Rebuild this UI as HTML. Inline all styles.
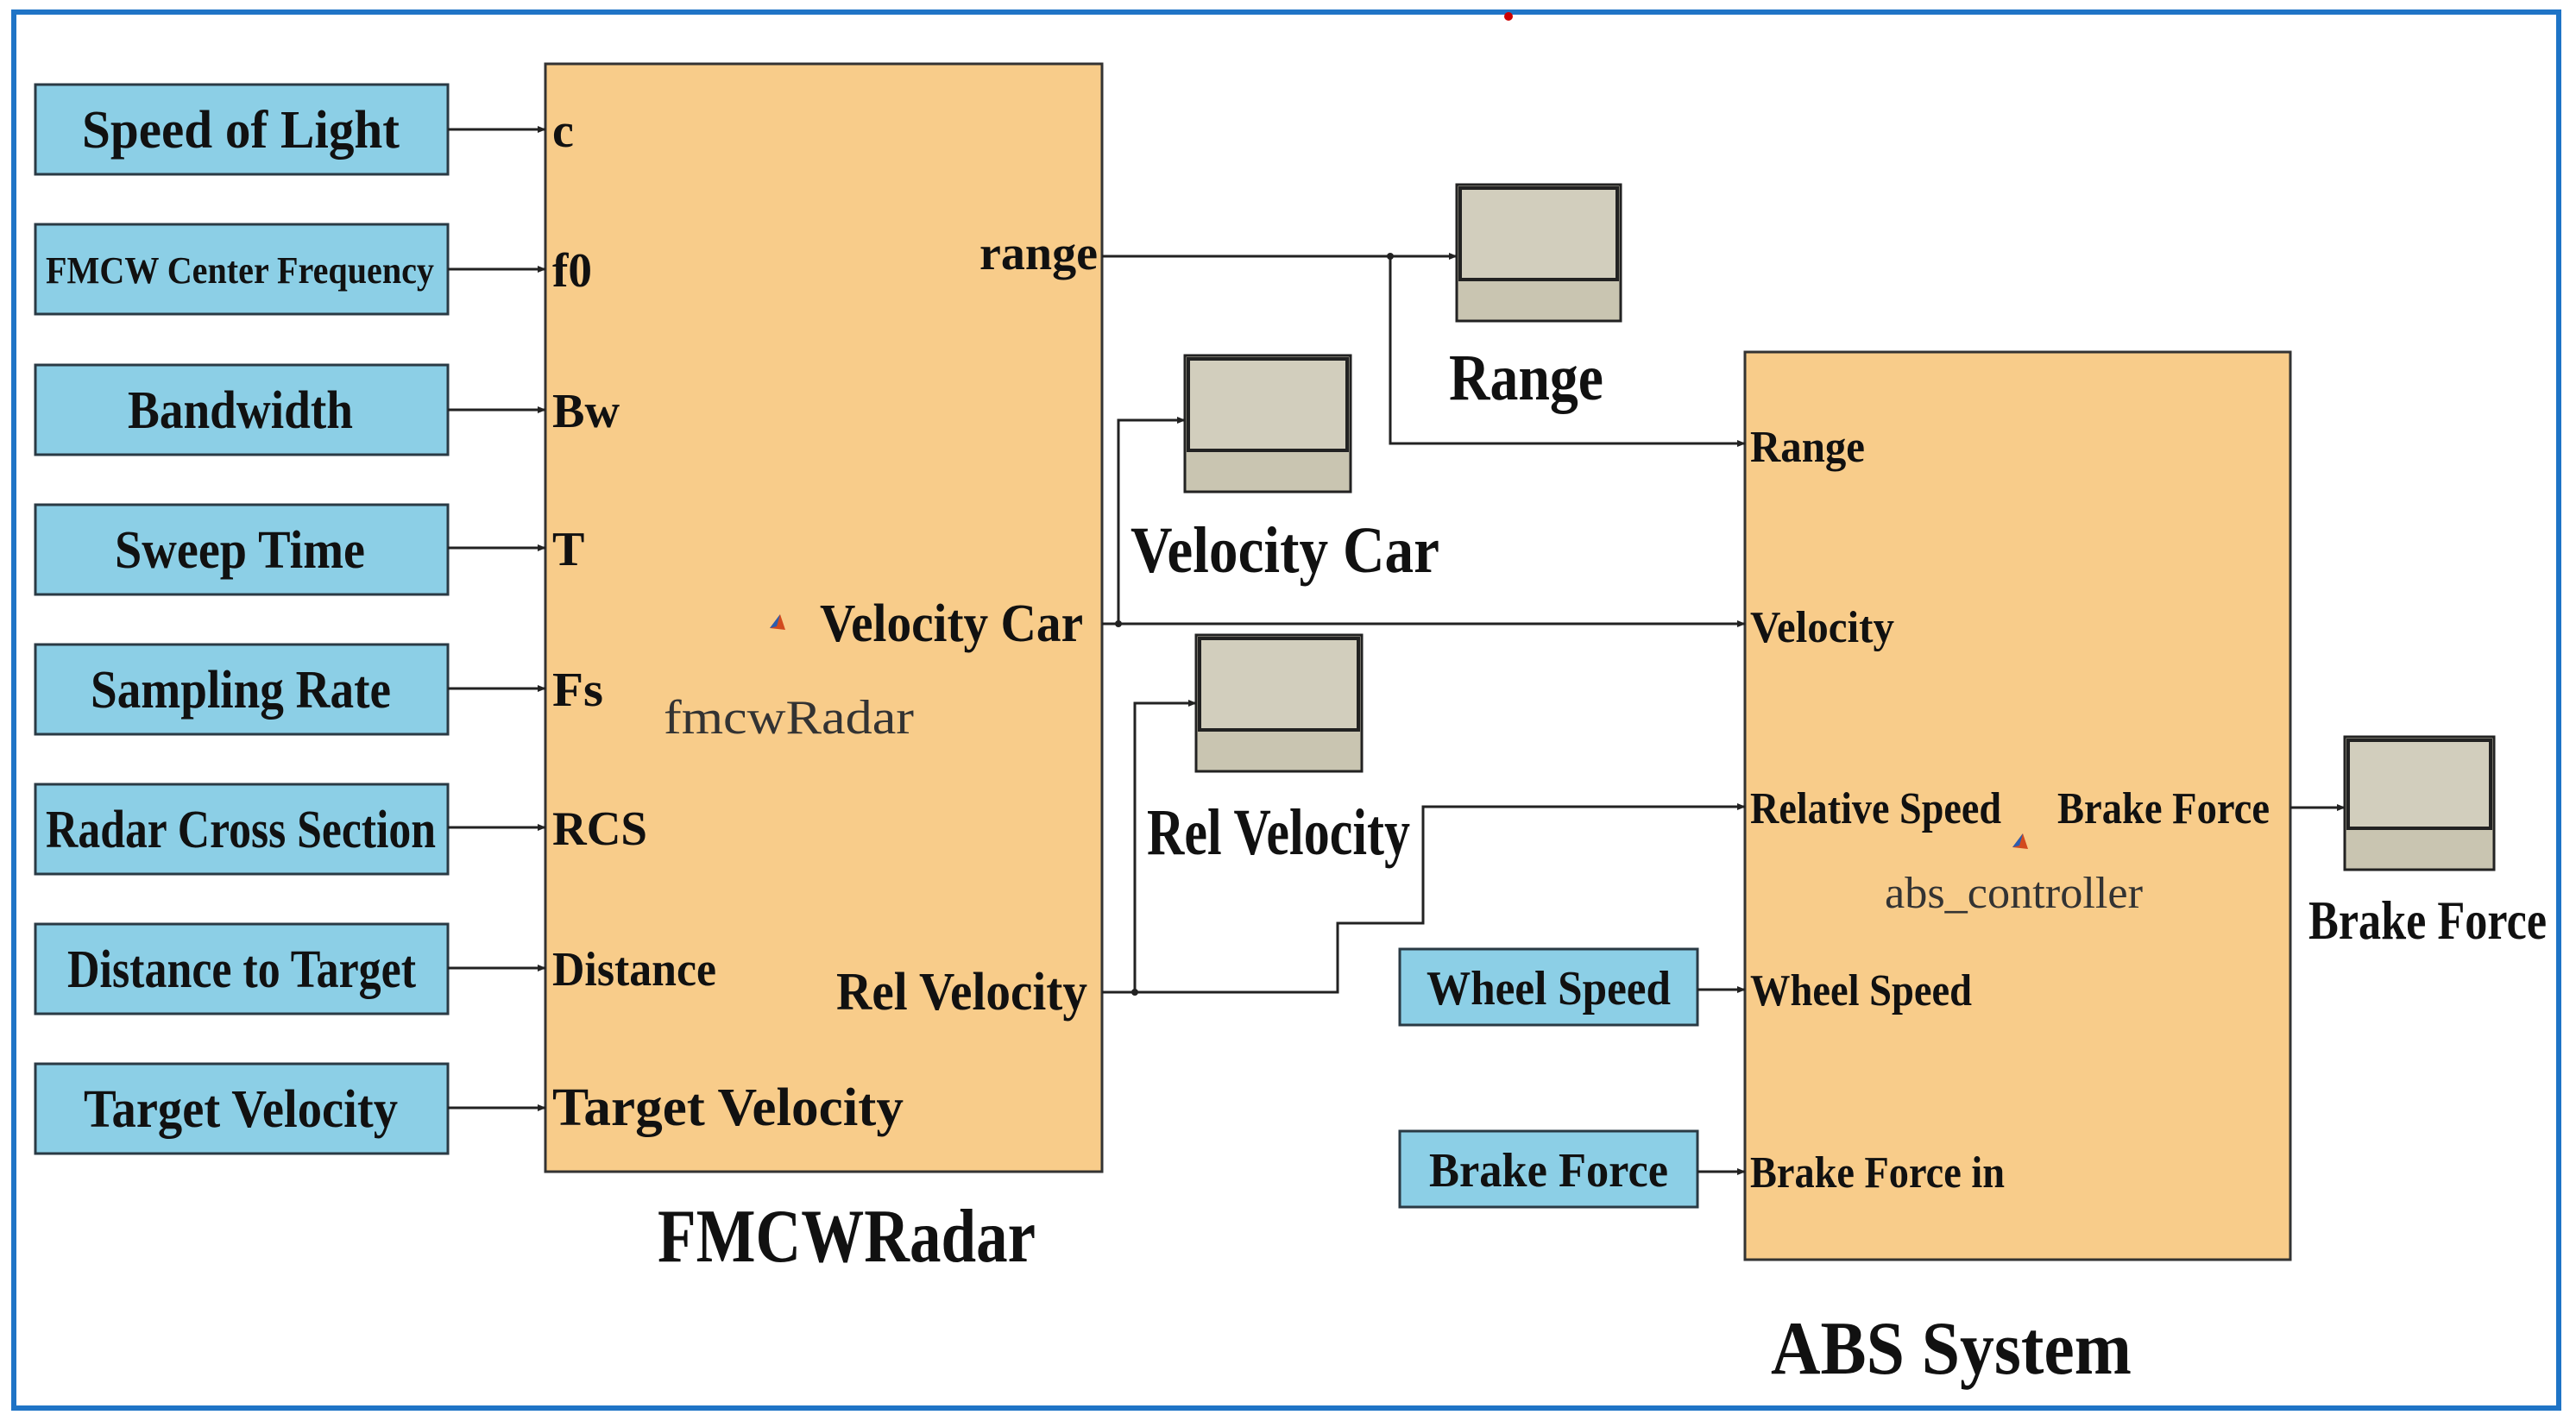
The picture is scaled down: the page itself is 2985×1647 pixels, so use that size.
<!DOCTYPE html>
<html><head><meta charset="utf-8"><style>
html,body{margin:0;padding:0;background:#fff;}
svg{display:block;}
text{font-family:"Liberation Serif",serif;font-weight:bold;fill:#111;}
.r{font-weight:normal;fill:#333;}
</style></head><body>
<svg width="2985" height="1647" viewBox="0 0 2985 1647" xmlns="http://www.w3.org/2000/svg">
<defs>
<marker id="a" markerWidth="10" markerHeight="10" refX="9" refY="5" orient="auto" markerUnits="userSpaceOnUse"><path d="M0,1 L10,5 L0,9 z" fill="#222"/></marker>
</defs>
<rect x="0" y="0" width="2985" height="1647" fill="#fff"/>
<rect x="16" y="14" width="2949" height="1618" fill="none" stroke="#1f74c6" stroke-width="6"/>
<circle cx="1748" cy="19" r="5" fill="#c00"/>

<!-- left source blocks -->
<g stroke="#2a3a44" stroke-width="3" fill="#8ccfe6">
<rect x="41" y="98" width="478" height="104"/>
<rect x="41" y="260" width="478" height="104"/>
<rect x="41" y="423" width="478" height="104"/>
<rect x="41" y="585" width="478" height="104"/>
<rect x="41" y="747" width="478" height="104"/>
<rect x="41" y="909" width="478" height="104"/>
<rect x="41" y="1071" width="478" height="104"/>
<rect x="41" y="1233" width="478" height="104"/>
</g>
<g font-size="62">
<text x="95" y="171" textLength="368" lengthAdjust="spacingAndGlyphs">Speed of Light</text>
<text x="53" y="328" font-size="44" textLength="450" lengthAdjust="spacingAndGlyphs">FMCW Center Frequency</text>
<text x="148" y="496" textLength="261" lengthAdjust="spacingAndGlyphs">Bandwidth</text>
<text x="133" y="658" textLength="290" lengthAdjust="spacingAndGlyphs">Sweep Time</text>
<text x="105" y="820" textLength="348" lengthAdjust="spacingAndGlyphs">Sampling Rate</text>
<text x="53" y="982" textLength="452" lengthAdjust="spacingAndGlyphs">Radar Cross Section</text>
<text x="78" y="1144" textLength="404" lengthAdjust="spacingAndGlyphs">Distance to Target</text>
<text x="97" y="1306" textLength="364" lengthAdjust="spacingAndGlyphs">Target Velocity</text>
</g>

<!-- FMCW block -->
<rect x="632" y="74" width="645" height="1284" fill="#f8cc8a" stroke="#333" stroke-width="3"/>
<g stroke="#222" stroke-width="3" fill="none" marker-end="url(#a)">
<line x1="519" y1="150" x2="632" y2="150"/>
<line x1="519" y1="312" x2="632" y2="312"/>
<line x1="519" y1="475" x2="632" y2="475"/>
<line x1="519" y1="635" x2="632" y2="635"/>
<line x1="519" y1="798" x2="632" y2="798"/>
<line x1="519" y1="959" x2="632" y2="959"/>
<line x1="519" y1="1122" x2="632" y2="1122"/>
<line x1="519" y1="1284" x2="632" y2="1284"/>
</g>
<g font-size="56">
<text x="640" y="170">c</text>
<text x="640" y="332" textLength="46" lengthAdjust="spacingAndGlyphs">f0</text>
<text x="640" y="495" textLength="78" lengthAdjust="spacingAndGlyphs">Bw</text>
<text x="640" y="655">T</text>
<text x="640" y="818" textLength="59" lengthAdjust="spacingAndGlyphs">Fs</text>
<text x="640" y="979" textLength="110" lengthAdjust="spacingAndGlyphs">RCS</text>
<text x="640" y="1142" textLength="190" lengthAdjust="spacingAndGlyphs">Distance</text>
<text x="640" y="1304" font-size="62" textLength="407" lengthAdjust="spacingAndGlyphs">Target Velocity</text>
<text x="1135" y="312" textLength="137" lengthAdjust="spacingAndGlyphs">range</text>
<text x="950" y="743" font-size="62" textLength="305" lengthAdjust="spacingAndGlyphs">Velocity Car</text>
<text x="969" y="1170" font-size="62" textLength="291" lengthAdjust="spacingAndGlyphs">Rel Velocity</text>
</g>
<text class="r" x="769" y="850" font-size="56" textLength="290" lengthAdjust="spacingAndGlyphs">fmcwRadar</text>
<path d="M892,728 L904,712 L910,730 z" fill="#d24a1e"/><path d="M892,728 L904,712 L900,726 z" fill="#2a5db0"/>
<text x="762" y="1462" font-size="88" textLength="438" lengthAdjust="spacingAndGlyphs">FMCWRadar</text>

<!-- scopes -->
<g stroke="#222" stroke-width="3">
<rect x="1688" y="214" width="190" height="158" fill="#c9c5b1"/>
<rect x="1692" y="218" width="182" height="106" fill="#d2cebd" stroke-width="4"/>
<rect x="1373" y="412" width="192" height="158" fill="#c9c5b1"/>
<rect x="1377" y="416" width="184" height="106" fill="#d2cebd" stroke-width="4"/>
<rect x="1386" y="736" width="192" height="158" fill="#c9c5b1"/>
<rect x="1390" y="740" width="184" height="106" fill="#d2cebd" stroke-width="4"/>
<rect x="2717" y="854" width="173" height="154" fill="#c9c5b1"/>
<rect x="2721" y="858" width="165" height="102" fill="#d2cebd" stroke-width="4"/>
</g>
<g font-size="76">
<text x="1679" y="463" textLength="179" lengthAdjust="spacingAndGlyphs">Range</text>
<text x="1310" y="663" textLength="358" lengthAdjust="spacingAndGlyphs">Velocity Car</text>
<text x="1329" y="990" textLength="305" lengthAdjust="spacingAndGlyphs">Rel Velocity</text>
<text x="2675" y="1088" font-size="64" textLength="276" lengthAdjust="spacingAndGlyphs">Brake Force</text>
</g>

<!-- ABS block -->
<rect x="2022" y="408" width="632" height="1052" fill="#f8cc8a" stroke="#333" stroke-width="3"/>
<g font-size="52">
<text x="2028" y="535" textLength="133" lengthAdjust="spacingAndGlyphs">Range</text>
<text x="2028" y="744" textLength="167" lengthAdjust="spacingAndGlyphs">Velocity</text>
<text x="2028" y="954" textLength="291" lengthAdjust="spacingAndGlyphs">Relative Speed</text>
<text x="2384" y="954" textLength="246" lengthAdjust="spacingAndGlyphs">Brake Force</text>
<text x="2028" y="1165" textLength="257" lengthAdjust="spacingAndGlyphs">Wheel Speed</text>
<text x="2028" y="1376" textLength="295" lengthAdjust="spacingAndGlyphs">Brake Force in</text>
</g>
<text class="r" x="2184" y="1052" font-size="52" textLength="299" lengthAdjust="spacingAndGlyphs">abs_controller</text>
<path d="M2332,982 L2344,966 L2350,984 z" fill="#d24a1e"/><path d="M2332,982 L2344,966 L2340,980 z" fill="#2a5db0"/>
<text x="2052" y="1592" font-size="88" textLength="418" lengthAdjust="spacingAndGlyphs">ABS System</text>

<g stroke="#2a3a44" stroke-width="3" fill="#8ccfe6">
<rect x="1622" y="1100" width="345" height="88"/>
<rect x="1622" y="1311" width="345" height="88"/>
</g>
<g font-size="56">
<text x="1653" y="1164" textLength="283" lengthAdjust="spacingAndGlyphs">Wheel Speed</text>
<text x="1656" y="1375" textLength="277" lengthAdjust="spacingAndGlyphs">Brake Force</text>
</g>

<!-- connectors -->
<g stroke="#222" stroke-width="3" fill="none">
<polyline points="1277,297 1688,297" marker-end="url(#a)"/>
<polyline points="1611,297 1611,514 2022,514" marker-end="url(#a)"/>
<polyline points="1277,723 2022,723" marker-end="url(#a)"/>
<polyline points="1296,723 1296,487 1373,487" marker-end="url(#a)"/>
<polyline points="1277,1150 1550,1150 1550,1070 1649,1070 1649,935 2022,935" marker-end="url(#a)"/>
<polyline points="1315,1150 1315,815 1386,815" marker-end="url(#a)"/>
<polyline points="1967,1147 2022,1147" marker-end="url(#a)"/>
<polyline points="1967,1358 2022,1358" marker-end="url(#a)"/>
<polyline points="2654,936 2717,936" marker-end="url(#a)"/>
</g>
<g fill="#222"><circle cx="1611" cy="297" r="4"/><circle cx="1296" cy="723" r="4"/><circle cx="1315" cy="1150" r="4"/></g>
</svg>
</body></html>
